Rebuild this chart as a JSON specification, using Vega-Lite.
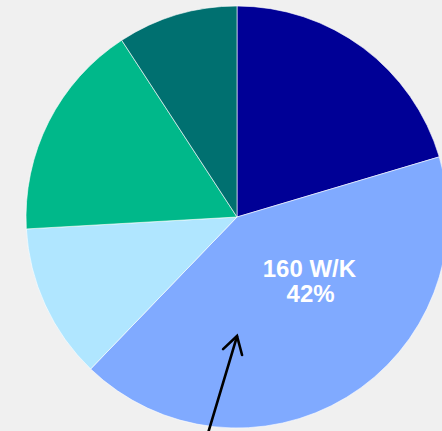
{
  "$schema": "https://vega.github.io/schema/vega-lite/v6.json",
  "autosize": {"type": "none"},
  "width": 410,
  "height": 428,
  "padding": {"left": 32, "top": 3, "right": 0, "bottom": 0},
  "background": "#f0f0f0",
  "config": {"view": {"stroke": null}},
  "datasets": {
    "slices": [
      {"segment": "A", "share": 20.4, "ord": 1},
      {"segment": "B", "share": 41.8, "ord": 2},
      {"segment": "C", "share": 11.9, "ord": 3},
      {"segment": "D", "share": 16.7, "ord": 4},
      {"segment": "E", "share": 9.2, "ord": 5}
    ],
    "arrow": [
      {"part": "shaft", "seq": 1, "px": -0.145, "py": -1.05},
      {"part": "shaft", "seq": 2, "px": 0.0, "py": -0.566},
      {"part": "head", "seq": 1, "px": -0.066, "py": -0.626},
      {"part": "head", "seq": 2, "px": 0.0, "py": -0.564},
      {"part": "head", "seq": 3, "px": 0.024, "py": -0.654}
    ],
    "labels": [
      {"txt": "160 W/K", "px": 0.343, "py": -0.283},
      {"txt": "42%", "px": 0.349, "py": -0.405}
    ]
  },
  "layer": [
    {
      "data": {"name": "slices"},
      "mark": {"type": "arc", "outerRadius": 211, "stroke": "#ffffff", "strokeWidth": 0.6},
      "encoding": {
        "theta": {"field": "share", "type": "quantitative", "stack": true},
        "order": {"field": "ord", "type": "quantitative"},
        "color": {
          "field": "segment",
          "type": "nominal",
          "scale": {"domain": ["A", "B", "C", "D", "E"], "range": ["#000096", "#80aaff", "#b0e6ff", "#00b88a", "#007070"]},
          "legend": null
        }
      }
    },
    {
      "data": {"name": "arrow"},
      "mark": {"type": "line", "color": "#000000", "strokeWidth": 2.6, "strokeCap": "round", "strokeJoin": "miter", "clip": false},
      "encoding": {
        "x": {"field": "px", "type": "quantitative", "scale": {"domain": [-0.9716, 0.9716], "nice": false, "zero": false}, "axis": null},
        "y": {"field": "py", "type": "quantitative", "scale": {"domain": [-1.0142, 1.0142], "nice": false, "zero": false}, "axis": null},
        "detail": {"field": "part", "type": "nominal"},
        "order": {"field": "seq", "type": "quantitative"}
      }
    },
    {
      "data": {"name": "labels"},
      "mark": {"type": "text", "color": "#ffffff", "font": "Liberation Sans", "fontWeight": "bold", "fontSize": 24, "align": "center", "baseline": "alphabetic"},
      "encoding": {
        "x": {"field": "px", "type": "quantitative", "axis": null},
        "y": {"field": "py", "type": "quantitative", "axis": null},
        "text": {"field": "txt", "type": "nominal"}
      }
    }
  ]
}
